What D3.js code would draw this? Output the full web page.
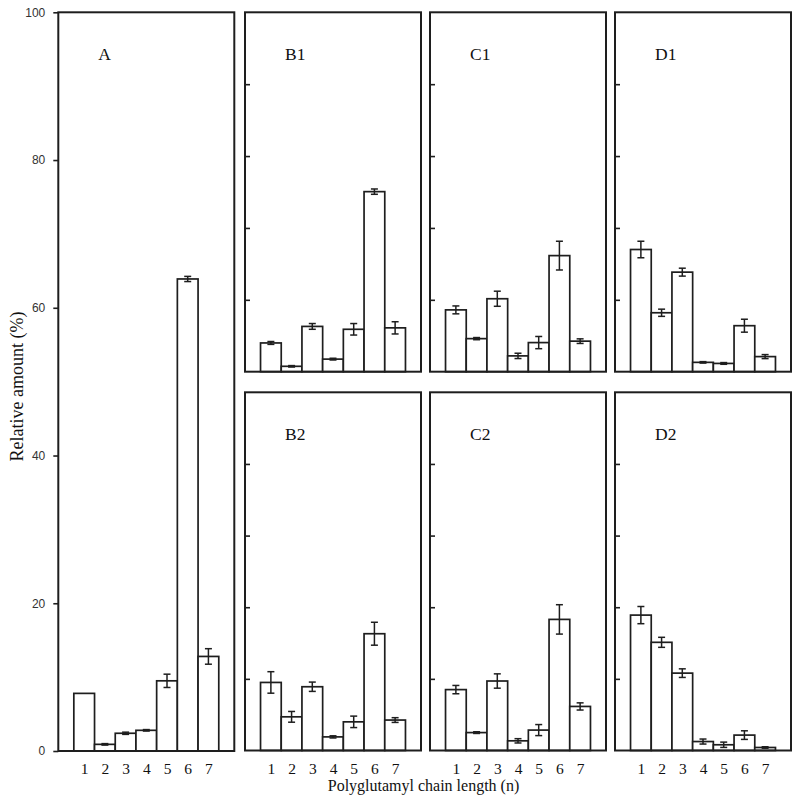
<!DOCTYPE html>
<html>
<head>
<meta charset="utf-8">
<script src="https://cdn.jsdelivr.net/npm/d3@7"></script>
<style>
  html, body { margin: 0; padding: 0; background: #fff; }
  svg { display: block; }
</style>
</head>
<body>
<svg id="chart" width="800" height="812"></svg>
<script>
// ---------------- DATA ----------------
const chainLengths = [1, 2, 3, 4, 5, 6, 7];
const yTicksA = [0, 20, 40, 60, 80, 100];
const yTicksSmall = [10, 20, 30, 40];

const A_mean  = [7.8, 0.9, 2.4, 2.8, 9.5, 63.9, 12.8];
const A_err   = [0, 0.1, 0.15, 0.1, 0.9, 0.35, 1.05];

const B1_mean = [4.0, 0.75, 6.3, 1.75, 5.9, 25.05, 6.1];
const B1_err  = [0.2, 0.1, 0.4, 0.12, 0.8, 0.37, 0.85];
const C1_mean = [8.6, 4.6, 10.15, 2.2, 4.05, 16.15, 4.25];
const C1_err  = [0.55, 0.15, 1.05, 0.37, 0.85, 2.0, 0.32];
const D1_mean = [17.0, 8.2, 13.85, 1.3, 1.15, 6.4, 2.1];
const D1_err  = [1.15, 0.5, 0.55, 0.1, 0.12, 0.9, 0.28];

const B2_mean = [9.5, 4.7, 8.9, 1.9, 4.0, 16.3, 4.25];
const B2_err  = [1.5, 0.75, 0.65, 0.15, 0.8, 1.6, 0.33];
const C2_mean = [8.5, 2.5, 9.7, 1.35, 2.85, 18.3, 6.15];
const C2_err  = [0.58, 0.12, 1.0, 0.3, 0.77, 2.05, 0.5];
const D2_mean = [18.9, 15.1, 10.8, 1.25, 0.8, 2.15, 0.42];
const D2_err  = [1.2, 0.7, 0.6, 0.35, 0.37, 0.6, 0.1];

const yTitle = "Relative amount (%)";
const xTitle = "Polyglutamyl chain length (n)";

// ---------------- LAYOUT ----------------
const ink = "#1e1e1e";
const serif = "'Liberation Serif', 'Times New Roman', serif";
const sans = "'Liberation Sans', Arial, sans-serif";

const colX = [58.3, 245, 430, 615];
const panelW = 176;
const topRow = [12.3, 371.7];
const botRow = [392.3, 750.5];

const panels = [
  { label: "A",  mean: A_mean,  err: A_err,  left: colX[0], top: 12.3,      bottom: 751,       domain: [0, 100], main: true,  showX: true },
  { label: "B1", mean: B1_mean, err: B1_err, left: colX[1], top: topRow[0], bottom: topRow[1], domain: [0, 50],  main: false, showX: false },
  { label: "C1", mean: C1_mean, err: C1_err, left: colX[2], top: topRow[0], bottom: topRow[1], domain: [0, 50],  main: false, showX: false },
  { label: "D1", mean: D1_mean, err: D1_err, left: colX[3], top: topRow[0], bottom: topRow[1], domain: [0, 50],  main: false, showX: false },
  { label: "B2", mean: B2_mean, err: B2_err, left: colX[1], top: botRow[0], bottom: botRow[1], domain: [0, 50],  main: false, showX: true },
  { label: "C2", mean: C2_mean, err: C2_err, left: colX[2], top: botRow[0], bottom: botRow[1], domain: [0, 50],  main: false, showX: true },
  { label: "D2", mean: D2_mean, err: D2_err, left: colX[3], top: botRow[0], bottom: botRow[1], domain: [0, 50],  main: false, showX: true },
];

const svg = d3.select("#chart");
const tickBaseline = 773.5;

panels.forEach(p => {
  const x = d3.scaleLinear().domain([-0.25, 8.25]).range([p.left, p.left + panelW]);
  const y = d3.scaleLinear().domain(p.domain).range([p.bottom, p.top]);
  const g = svg.append("g");

  const rows = chainLengths.map((n, i) => ({ n, v: p.mean[i], e: p.err[i] }));

  // bars
  g.selectAll("rect.bar").data(rows).join("rect")
    .attr("class", "bar")
    .attr("x", d => x(d.n - 0.5))
    .attr("width", d => x(d.n + 0.5) - x(d.n - 0.5))
    .attr("y", d => y(d.v))
    .attr("height", d => y(0) - y(d.v))
    .attr("fill", "#fff")
    .attr("stroke", ink)
    .attr("stroke-width", 1.7);

  // error bars
  const eb = g.selectAll("g.err").data(rows.filter(d => d.e > 0)).join("g").attr("class", "err")
    .attr("stroke", ink).attr("stroke-width", 1.5);
  eb.append("line")
    .attr("x1", d => x(d.n)).attr("x2", d => x(d.n))
    .attr("y1", d => y(d.v + d.e)).attr("y2", d => y(d.v - d.e));
  eb.append("line")
    .attr("x1", d => x(d.n) - 3.5).attr("x2", d => x(d.n) + 3.5)
    .attr("y1", d => y(d.v + d.e)).attr("y2", d => y(d.v + d.e));
  eb.append("line")
    .attr("x1", d => x(d.n) - 3.5).attr("x2", d => x(d.n) + 3.5)
    .attr("y1", d => y(d.v - d.e)).attr("y2", d => y(d.v - d.e));

  // frame
  g.append("rect")
    .attr("x", p.left).attr("y", p.top)
    .attr("width", panelW).attr("height", p.bottom - p.top)
    .attr("fill", "none").attr("stroke", ink).attr("stroke-width", 2);

  // y axis
  if (p.main) {
    const ax = g.append("g").attr("transform", `translate(${p.left},0)`)
      .call(d3.axisLeft(y).tickValues(yTicksA).tickSize(5).tickPadding(8));
    ax.select(".domain").remove();
    ax.selectAll(".tick line").attr("stroke", ink).attr("stroke-width", 1.6);
    ax.selectAll(".tick text").attr("font-family", sans).attr("font-size", 12).attr("fill", "#333");
  } else {
    const ax = g.append("g").attr("transform", `translate(${p.left},0)`)
      .call(d3.axisRight(y).tickValues(yTicksSmall).tickSize(5).tickFormat(""));
    ax.select(".domain").remove();
    ax.selectAll(".tick line").attr("stroke", ink).attr("stroke-width", 1.6);
  }

  // x axis labels
  if (p.showX) {
    const ax = g.append("g").attr("transform", `translate(0,${p.bottom})`)
      .call(d3.axisBottom(x).tickValues(chainLengths).tickSize(0).tickFormat(d3.format("d")));
    ax.select(".domain").remove();
    ax.selectAll(".tick text")
      .attr("y", tickBaseline - p.bottom).attr("dy", null)
      .attr("font-family", serif).attr("font-size", 15.5).attr("fill", "#111");
  }

  // panel label
  g.append("text")
    .attr("x", p.left + 40).attr("y", p.top + 48)
    .attr("font-family", serif).attr("font-size", 17.5).attr("fill", "#111")
    .text(p.label);
});

// axis titles
svg.append("text")
  .attr("transform", "translate(22.5,386.5) rotate(-90)")
  .attr("text-anchor", "middle")
  .attr("font-family", serif).attr("font-size", 18).attr("fill", "#111")
  .text(yTitle);

svg.append("text")
  .attr("x", 423.5).attr("y", 791)
  .attr("text-anchor", "middle")
  .attr("font-family", serif).attr("font-size", 16).attr("fill", "#111")
  .text(xTitle);
</script>
</body>
</html>
